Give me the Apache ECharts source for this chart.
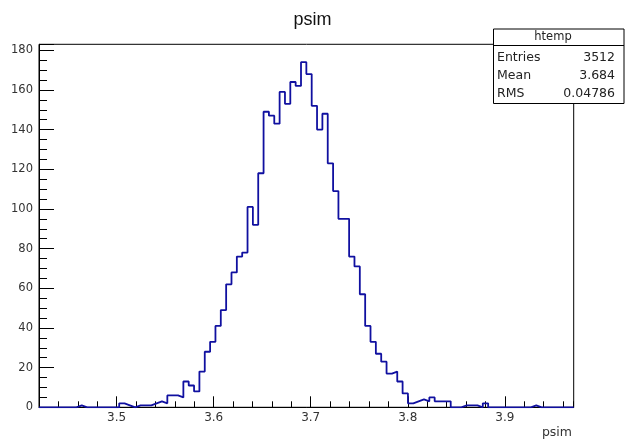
<!DOCTYPE html>
<html>
<head>
<meta charset="utf-8">
<script src="https://cdn.jsdelivr.net/npm/echarts/dist/echarts.min.js"></script>
<style>
html, body { margin: 0; padding: 0; background: #fff; }
#main { width: 625px; height: 445px; }
</style>
</head>
<body>
<div id="main"></div>
<script>
// histogram htemp of psim, 100 bins
var binCounts = [
  0, 0, 0, 0, 0, 0, 0, 1, 0, 0,
  0, 0, 0, 0, 0, 2, 1, 0, 1, 1,
  1, 2, 3, 2, 6, 6, 5, 13, 11, 8,
  18, 28, 33, 41, 49, 62, 68, 76, 78, 101,
  92, 118, 149, 147, 143, 159, 153, 164, 162, 174,
  168, 152, 140, 148, 123, 109, 95, 95, 76, 71,
  57, 41, 33, 27, 23, 17, 18, 13, 7, 2,
  3, 4, 3, 5, 3, 3, 3, 0, 0, 1,
  1, 1, 0, 2, 0, 0, 0, 0, 0, 0,
  0, 0, 1, 0, 0, 0, 0, 0, 0, 0
];
var xLow = 3.42;
var xHigh = 3.971;
var yTop = 183;
var statLabels = ['Entries', 'Mean', 'RMS'];
var statValues = ['3512', '3.684', '0.04786'];

var binWidth = (xHigh - xLow) / binCounts.length;
var stepData = binCounts.map(function (c, i) { return [xLow + i * binWidth, c]; });
stepData.push([xHigh, binCounts[binCounts.length - 1]]);

var font = 'DejaVu Sans, sans-serif';
var plotL = 39, plotR = 573.7, plotT = 44.3, plotB = 407.3;
// second grid starts at 3.5 so its 0.1 ticks line up with the first one
var leftMajor = plotL + (plotR - plotL) * (3.5 - xLow) / (xHigh - xLow);

var chart = echarts.init(document.getElementById('main'));

// stats box
var boxX = 493.5, boxY = 29, boxW = 130.5, boxH = 74.5;
var statsGraphic = [
  { type: 'rect', shape: { x: boxX, y: boxY, width: boxW, height: boxH },
    style: { fill: '#fff', stroke: '#000', lineWidth: 1 }, z: 100 },
  { type: 'line', shape: { x1: boxX, y1: 45.5, x2: boxX + boxW, y2: 45.5 },
    style: { stroke: '#000', lineWidth: 1 }, z: 101 },
  { type: 'text', x: 553, y: 37.5, z: 101,
    style: { text: 'htemp', fill: '#222', font: '11.5px ' + font, align: 'center', verticalAlign: 'middle' } },
  { type: 'text', x: 572, y: 433, z: 101,
    style: { text: 'psim', fill: '#333', font: '12.5px ' + font, align: 'right', verticalAlign: 'middle' } }
];
statLabels.forEach(function (lab, i) {
  var y = 57.5 + i * 18;
  statsGraphic.push({ type: 'text', x: 497, y: y, z: 101,
    style: { text: lab, fill: '#222', font: '12.5px ' + font, align: 'left', verticalAlign: 'middle' } });
  statsGraphic.push({ type: 'text', x: 615, y: y, z: 101,
    style: { text: statValues[i], fill: '#222', font: '12.5px ' + font, align: 'right', verticalAlign: 'middle' } });
});

var option = {
  animation: false,
  backgroundColor: '#fff',
  title: [
    { text: 'psim', left: 'center', top: 6,
      textStyle: { fontFamily: 'Liberation Sans, Arial, sans-serif', fontSize: 18, fontWeight: 'normal', color: '#111' } }
  ],
  grid: [
    { left: plotL, right: 625 - plotR, top: plotT, bottom: 445 - plotB,
      show: true, borderColor: '#000', borderWidth: 1, backgroundColor: 'transparent' },
    { left: leftMajor, right: 625 - plotR, top: plotT, bottom: 445 - plotB, show: false }
  ],
  xAxis: [
    { type: 'value', gridIndex: 0, min: xLow, max: xHigh, interval: 0.02,
      axisLine: { show: true, lineStyle: { color: '#000', width: 1 } },
      axisTick: { show: true, inside: true, length: 6, lineStyle: { color: '#000' } },
      axisLabel: { show: false }, splitLine: { show: false } },
    { type: 'value', gridIndex: 1, min: 3.5, max: xHigh, interval: 0.1,
      axisLine: { show: false },
      axisTick: { show: true, inside: true, length: 11, lineStyle: { color: '#000' } },
      axisLabel: { show: true, margin: 5, fontFamily: font, fontSize: 12, color: '#333',
        showMaxLabel: false,
        formatter: function (v) { return v.toFixed(1); } },
      splitLine: { show: false } }
  ],
  yAxis: [
    { type: 'value', gridIndex: 0, min: 0, max: yTop, interval: 20,
      axisLine: { show: true, lineStyle: { color: '#000', width: 1 } },
      axisTick: { show: true, inside: true, length: 15, lineStyle: { color: '#000' } },
      minorTick: { show: true, splitNumber: 4, length: 8, lineStyle: { color: '#000' } },
      axisLabel: { margin: 6, fontFamily: font, fontSize: 11.5, color: '#333', showMaxLabel: false },
      splitLine: { show: false } },
    { type: 'value', gridIndex: 1, min: 0, max: yTop, show: false }
  ],
  graphic: statsGraphic,
  series: [
    { type: 'line', xAxisIndex: 0, yAxisIndex: 0, step: 'end', data: stepData,
      showSymbol: false, lineStyle: { color: '#1010a0', width: 1.8 }, z: 5 }
  ]
};
chart.setOption(option);
</script>
</body>
</html>
